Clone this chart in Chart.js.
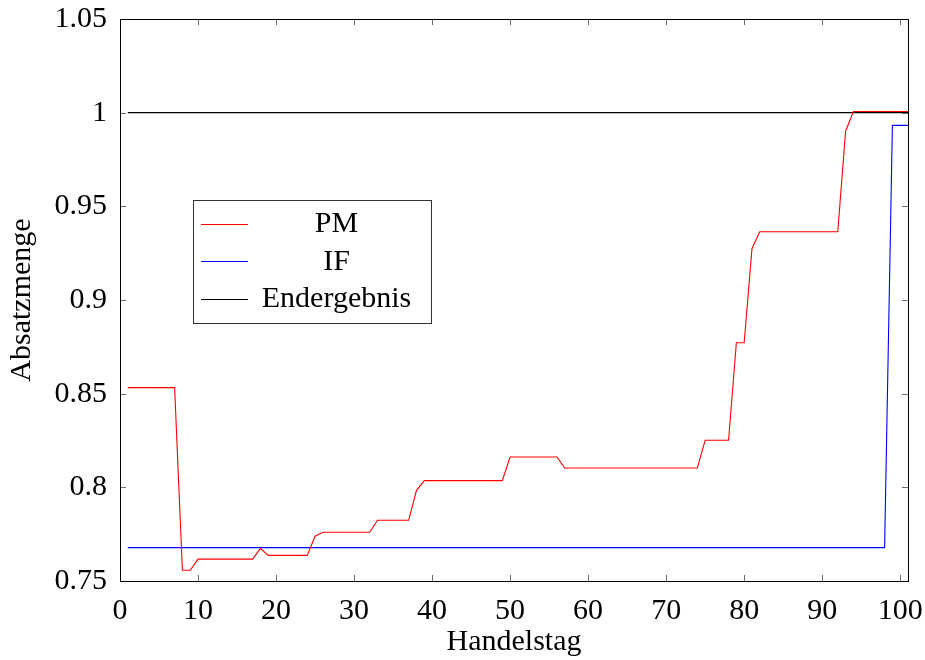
<!DOCTYPE html>
<html>
<head>
<meta charset="utf-8">
<script src="https://cdn.jsdelivr.net/npm/chart.js@4.4.1/dist/chart.umd.min.js"></script>
<style>
  html, body { margin: 0; padding: 0; background: #fff; }
  #wrap { width: 925px; height: 660px; }
</style>
</head>
<body>
<div id="wrap"><canvas id="c" width="925" height="660"></canvas></div>
<script>
const days = [1,2,3,4,5,6,7,8,9,10,11,12,13,14,15,16,17,18,19,20,
  21,22,23,24,25,26,27,28,29,30,31,32,33,34,35,36,37,38,39,40,
  41,42,43,44,45,46,47,48,49,50,51,52,53,54,55,56,57,58,59,60,
  61,62,63,64,65,66,67,68,69,70,71,72,73,74,75,76,77,78,79,80,
  81,82,83,84,85,86,87,88,89,90,91,92,93,94,95,96,97,98,99,100,101];

const pmValues = [
  0.8532,0.8532,0.8532,0.8532,0.8532,0.8532,0.8532,0.7557,0.7557,0.7617,
  0.7617,0.7617,0.7617,0.7617,0.7617,0.7617,0.7617,0.7674,0.7637,0.7637,
  0.7637,0.7637,0.7637,0.7637,0.7739,0.7760,0.7760,0.7760,0.7760,0.7760,
  0.7760,0.7760,0.7824,0.7824,0.7824,0.7824,0.7824,0.7984,0.8036,0.8036,
  0.8036,0.8036,0.8036,0.8036,0.8036,0.8036,0.8036,0.8036,0.8036,0.8162,
  0.8162,0.8162,0.8162,0.8162,0.8162,0.8162,0.8103,0.8103,0.8103,0.8103,
  0.8103,0.8103,0.8103,0.8103,0.8103,0.8103,0.8103,0.8103,0.8103,0.8103,
  0.8103,0.8103,0.8103,0.8103,0.8251,0.8251,0.8251,0.8251,0.8772,0.8772,
  0.9274,0.9364,0.9364,0.9364,0.9364,0.9364,0.9364,0.9364,0.9364,0.9364,
  0.9364,0.9364,0.9901,1.0006,1.0006,1.0006,1.0006,1.0006,1.0006,1.0006,1.0006];

const ifValues = [
  0.7678,0.7678,0.7678,0.7678,0.7678,0.7678,0.7678,0.7678,0.7678,0.7678,
  0.7678,0.7678,0.7678,0.7678,0.7678,0.7678,0.7678,0.7678,0.7678,0.7678,
  0.7678,0.7678,0.7678,0.7678,0.7678,0.7678,0.7678,0.7678,0.7678,0.7678,
  0.7678,0.7678,0.7678,0.7678,0.7678,0.7678,0.7678,0.7678,0.7678,0.7678,
  0.7678,0.7678,0.7678,0.7678,0.7678,0.7678,0.7678,0.7678,0.7678,0.7678,
  0.7678,0.7678,0.7678,0.7678,0.7678,0.7678,0.7678,0.7678,0.7678,0.7678,
  0.7678,0.7678,0.7678,0.7678,0.7678,0.7678,0.7678,0.7678,0.7678,0.7678,
  0.7678,0.7678,0.7678,0.7678,0.7678,0.7678,0.7678,0.7678,0.7678,0.7678,
  0.7678,0.7678,0.7678,0.7678,0.7678,0.7678,0.7678,0.7678,0.7678,0.7678,
  0.7678,0.7678,0.7678,0.7678,0.7678,0.7678,0.7678,0.7678,0.9932,0.9932,0.9932];

const endValues = [
  1,1,1,1,1,1,1,1,1,1, 1,1,1,1,1,1,1,1,1,1,
  1,1,1,1,1,1,1,1,1,1, 1,1,1,1,1,1,1,1,1,1,
  1,1,1,1,1,1,1,1,1,1, 1,1,1,1,1,1,1,1,1,1,
  1,1,1,1,1,1,1,1,1,1, 1,1,1,1,1,1,1,1,1,1,
  1,1,1,1,1,1,1,1,1,1, 1,1,1,1,1,1,1,1,1,1, 1];

const seriesNames = ['PM', 'IF', 'Endergebnis'];
const xTickValues = [0, 10, 20, 30, 40, 50, 60, 70, 80, 90, 100];
const yTickValues = [0.75, 0.8, 0.85, 0.9, 0.95, 1, 1.05];
const yTickLabels = ['0.75', '0.8', '0.85', '0.9', '0.95', '1', '1.05'];

const FONT = "'Liberation Serif', 'Times New Roman', serif";
const FS = 30;

function pts(vals) { return days.map((d, i) => ({ x: d, y: vals[i] })); }

const frameTicks = {
  id: 'frameTicks',
  afterDatasetsDraw(chart) {
    const { ctx, chartArea: a, scales } = chart;
    ctx.save();
    ctx.lineWidth = 1;
    ctx.strokeStyle = '#6e6e6e';
    const L = 6;
    xTickValues.forEach(v => {
      const x = Math.round(scales.x.getPixelForValue(v)) + 0.5;
      ctx.beginPath();
      ctx.moveTo(x, a.bottom); ctx.lineTo(x, a.bottom - L);
      ctx.moveTo(x, a.top); ctx.lineTo(x, a.top + L);
      ctx.stroke();
    });
    yTickValues.forEach(v => {
      const y = Math.round(scales.y.getPixelForValue(v)) + 0.5;
      ctx.beginPath();
      ctx.moveTo(a.left, y); ctx.lineTo(a.left + L, y);
      ctx.moveTo(a.right, y); ctx.lineTo(a.right - L, y);
      ctx.stroke();
    });
    ctx.strokeStyle = '#000';
    ctx.strokeRect(Math.round(a.left) + 0.5, Math.round(a.top) + 0.5,
      Math.round(a.right - a.left), Math.round(a.bottom - a.top));

    // legend box
    const bx = a.left + 73, by = a.top + 181, bw = 238, bh = 123;
    ctx.fillStyle = '#fff';
    ctx.fillRect(bx, by, bw, bh);
    ctx.strokeStyle = '#333';
    ctx.strokeRect(Math.round(bx) + 0.5, Math.round(by) + 0.5, bw, bh);
    const rowsY = [by + 23.5, by + 61, by + 98.5];
    chart.data.datasets.forEach((ds, i) => {
      const y = Math.round(rowsY[i]) + 0.5;
      ctx.strokeStyle = ds.borderColor;
      ctx.lineWidth = 1.2;
      ctx.beginPath();
      ctx.moveTo(bx + 8, y); ctx.lineTo(bx + 55, y);
      ctx.stroke();
      ctx.fillStyle = '#000';
      ctx.font = FS + 'px ' + FONT;
      ctx.textAlign = 'center';
      ctx.textBaseline = 'middle';
      ctx.fillText(ds.label, bx + 143.5, rowsY[i] + 1);
    });
    ctx.restore();
  }
};

new Chart(document.getElementById('c'), {
  type: 'line',
  data: {
    datasets: [
      { label: seriesNames[0], data: pts(pmValues), borderColor: '#ff0000', borderWidth: 1.1, pointRadius: 0, tension: 0, fill: false },
      { label: seriesNames[1], data: pts(ifValues), borderColor: '#0000ff', borderWidth: 1.1, pointRadius: 0, tension: 0, fill: false },
      { label: seriesNames[2], data: pts(endValues), borderColor: '#000000', borderWidth: 1.1, pointRadius: 0, tension: 0, fill: false }
    ]
  },
  options: {
    responsive: false,
    animation: false,
    events: [],
    layout: { padding: { top: 19, right: 17, left: 0, bottom: 0 } },
    plugins: { legend: { display: false }, tooltip: { enabled: false } },
    scales: {
      x: {
        type: 'linear', min: 0, max: 101,
        afterFit(s) { s.height = 79; s.paddingLeft = 0; s.paddingRight = 0; },
        afterBuildTicks(s) { s.ticks = xTickValues.map(v => ({ value: v })); },
        grid: { display: false, drawTicks: false },
        border: { display: false },
        ticks: { color: '#000', font: { family: FONT, size: FS }, padding: 12, maxRotation: 0, autoSkip: false,
                 callback: v => String(v) },
        title: { display: true, text: 'Handelstag', color: '#000', font: { family: FONT, size: FS }, padding: 0 }
      },
      y: {
        type: 'linear', min: 0.75, max: 1.05,
        afterFit(s) { s.width = 120; s.paddingTop = 0; s.paddingBottom = 0; },
        afterBuildTicks(s) { s.ticks = yTickValues.map(v => ({ value: v })); },
        grid: { display: false, drawTicks: false },
        border: { display: false },
        ticks: { color: '#000', font: { family: FONT, size: FS }, padding: 13, autoSkip: false,
                 callback: (v) => { const i = yTickValues.indexOf(v); return i >= 0 ? yTickLabels[i] : ''; } },
        title: { display: true, text: 'Absatzmenge', color: '#000', font: { family: FONT, size: FS }, padding: { top: 4, bottom: 0 } }
      }
    }
  },
  plugins: [frameTicks]
});
</script>
</body>
</html>
